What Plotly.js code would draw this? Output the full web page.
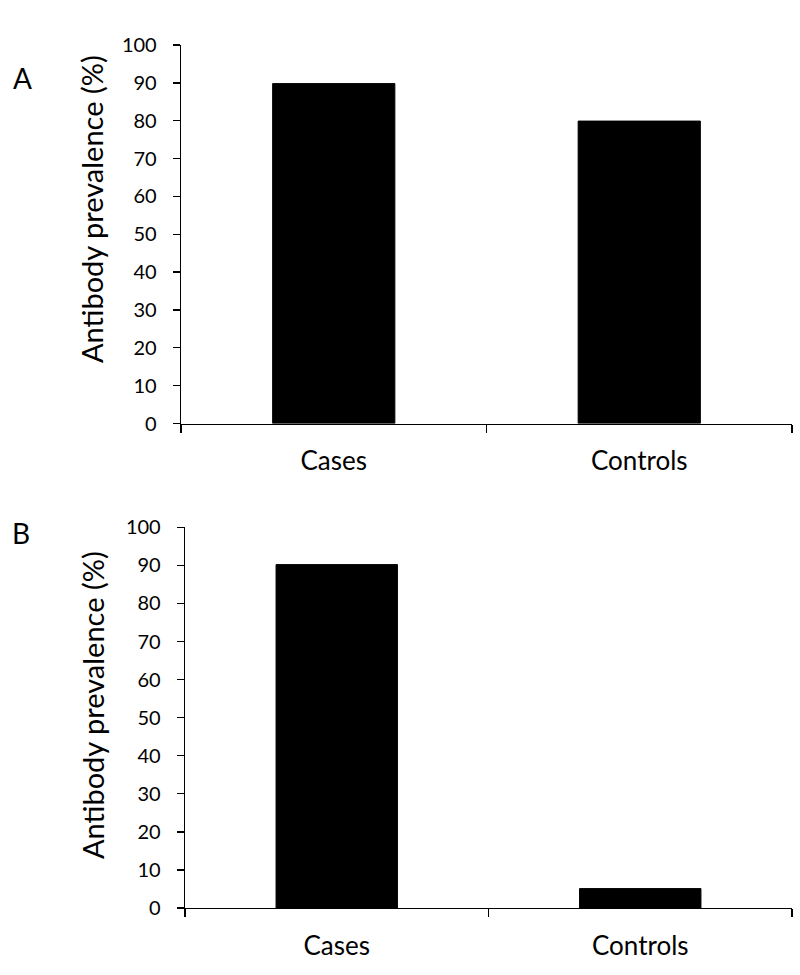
<!DOCTYPE html>
<html>
<head>
<meta charset="utf-8">
<script src="https://cdn.plot.ly/plotly-3.0.1.min.js"></script>
<style>html,body{margin:0;padding:0;background:#fff;}#chart{width:800px;height:975px;}</style>
</head>
<body>
<div id="chart"></div>
<script>
// Data
const categories = ["Cases", "Controls"];
const panelA_values = [89.8, 79.9];
const panelB_values = [90.2, 5.1];
const yTickValues = [0, 10, 20, 30, 40, 50, 60, 70, 80, 90, 100];
const yTitle = "Antibody prevalence (%)";
const panelLabels = ["A", "B"];

const FONT = "Lato, 'Open Sans', sans-serif";
const W = 800, H = 975;
const px = v => v / W;
const py = v => 1 - v / H;

const barStyle = {color: "#000000", line: {color: "#000000", width: 1}};

const traces = [
  {type: "bar", x: categories, y: panelA_values, xaxis: "x", yaxis: "y", marker: barStyle, hoverinfo: "x+y"},
  {type: "bar", x: categories, y: panelB_values, xaxis: "x2", yaxis: "y2", marker: barStyle, hoverinfo: "x+y"}
];

function xAxis(domain, anchor) {
  return {
    domain: domain, anchor: anchor, type: "category", range: [-0.5, 1.5],
    showline: true, linecolor: "#000", linewidth: 1.3,
    ticks: "outside", tickson: "boundaries", ticklen: 8, tickcolor: "#000", tickwidth: 1.3,
    tickfont: {family: FONT, size: 26, color: "#000"},
    ticklabelstandoff: 14,
    showgrid: false, zeroline: false, fixedrange: true
  };
}
function yAxis(domain, anchor) {
  return {
    domain: domain, anchor: anchor, range: [0, 100],
    tickmode: "array", tickvals: yTickValues, ticktext: yTickValues.map(String),
    showline: true, linecolor: "#000", linewidth: 1.3,
    ticks: "outside", ticklen: 7, tickcolor: "#000", tickwidth: 1.3,
    tickfont: {family: FONT, size: 20, color: "#000"},
    ticklabelstandoff: 12,
    showgrid: false, zeroline: false, fixedrange: true
  };
}

const layout = {
  width: W, height: H,
  margin: {l: 0, r: 0, t: 0, b: 0},
  paper_bgcolor: "#fff", plot_bgcolor: "#fff",
  showlegend: false,
  bargap: 0.6,
  font: {family: FONT, color: "#000"},
  xaxis: xAxis([px(181), px(792)], "y"),
  yaxis: yAxis([py(423.5), py(45)], "x"),
  xaxis2: xAxis([px(185), px(792)], "y2"),
  yaxis2: yAxis([py(908), py(527.3)], "x2"),
  annotations: [
    {text: panelLabels[0], xref: "paper", yref: "paper", x: px(22), y: py(78), xanchor: "center", yanchor: "middle", showarrow: false, font: {family: FONT, size: 28, color: "#000"}},
    {text: panelLabels[1], xref: "paper", yref: "paper", x: px(21), y: py(533), xanchor: "center", yanchor: "middle", showarrow: false, font: {family: FONT, size: 28, color: "#000"}},
    {text: yTitle, xref: "paper", yref: "paper", x: px(92), y: py(209), xanchor: "center", yanchor: "middle", textangle: -90, showarrow: false, font: {family: FONT, size: 29, color: "#000"}},
    {text: yTitle, xref: "paper", yref: "paper", x: px(92), y: py(705), xanchor: "center", yanchor: "middle", textangle: -90, showarrow: false, font: {family: FONT, size: 29, color: "#000"}}
  ]
};

Plotly.newPlot("chart", traces, layout, {staticPlot: true, displayModeBar: false});
</script>
</body>
</html>
